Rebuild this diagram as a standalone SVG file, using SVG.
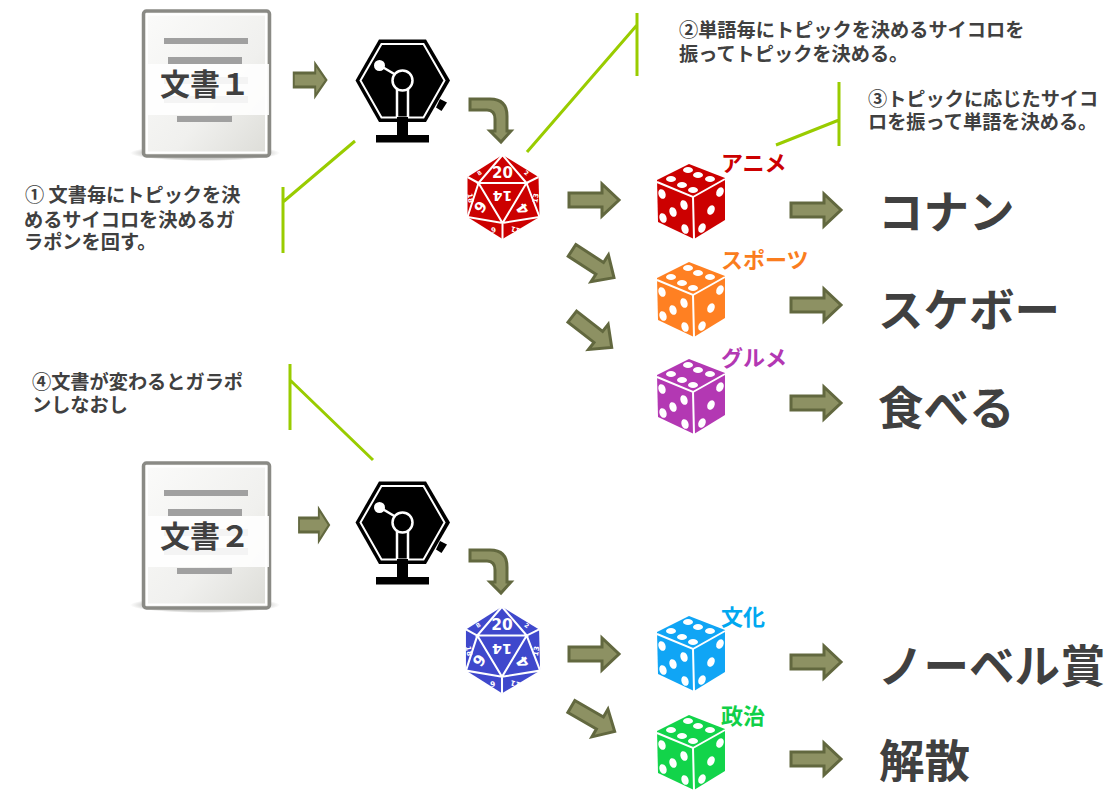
<svg xmlns="http://www.w3.org/2000/svg" width="1111" height="792" viewBox="0 0 1111 792">
<style>
text{font-family:"Noto Sans CJK JP","Liberation Sans",sans-serif;font-weight:700;fill:#404040}
.note{font-size:19.2px}
.big{font-size:45.500px}
.lab{font-size:22px}
.doc{font-size:30px}
.arrow{fill:#8d9163;stroke:#62683f;stroke-width:3}
.call{fill:none;stroke:#99cc00;stroke-width:3}
.w{fill:none;stroke:#fff;stroke-width:2}
.pip{fill:#fff}
.dn{fill:#fff;font-family:"DejaVu Sans",sans-serif;text-anchor:middle}
</style>
<defs>
<linearGradient id="pg" x1="0" y1="0" x2="1" y2="1"><stop offset="0" stop-color="#fbfbfa"/><stop offset=".6" stop-color="#f0f0ee"/><stop offset="1" stop-color="#dcdcd7"/></linearGradient>
<radialGradient id="sh"><stop offset="0" stop-color="#8a8a85" stop-opacity=".7"/><stop offset=".8" stop-color="#8a8a85" stop-opacity=".4"/><stop offset="1" stop-color="#8a8a85" stop-opacity="0"/></radialGradient>
<g id="page">
<ellipse cx="205" cy="153" rx="75" ry="8" fill="url(#sh)"/>
<rect x="143.500" y="11" width="126" height="145" rx="3" fill="url(#pg)" stroke="#8a8a85" stroke-width="3.500"/>
<rect x="147" y="14.500" width="119" height="138" fill="none" stroke="#fff" stroke-width="2"/>
<rect x="164" y="38" width="84" height="6" fill="#a0a0a0"/>
<rect x="168" y="57" width="74" height="7" fill="#a0a0a0"/>
<rect x="164" y="77" width="84" height="7" fill="#a0a0a0"/>
<rect x="164" y="96" width="84" height="7" fill="#a0a0a0"/>
<rect x="177" y="116" width="55" height="6" fill="#a0a0a0"/>
<rect x="148" y="64" width="121" height="51" fill="#fff" fill-opacity=".88"/>
</g>
<g id="gacha">
<polygon points="379,39.500 426,39.500 450,80.500 426,122 379,122 355.500,80.500"/>
<polygon points="381.500,44 423.500,44 444.500,80.500 423.500,117.500 381.500,117.500 360.500,80.500" fill="none" stroke="#fff" stroke-width="2"/>
<rect x="397" y="117" width="11" height="20"/>
<rect x="376" y="135" width="53" height="7.500"/>
<path d="M379,65 L396,75" stroke="#fff" stroke-width="2.500" fill="none"/>
<circle cx="379.500" cy="65.500" r="5.500" fill="#fff"/>
<circle cx="402.500" cy="80.500" r="10" fill="#000" stroke="#fff" stroke-width="2.500"/>
<path d="M397,89 V117 M408,89 V117" stroke="#fff" stroke-width="2.500"/>
<polygon points="440,99 447,102.500 441.500,111 436,107.500"/>
</g>
<g id="d20">
<polygon points="0,-42 36,-20 37,20 0,42 -35,20 -35,-20"/>
<path class="w" d="M0,-42 L-24,-14 H24 Z M0,-42 L24,-14 L36,-20 M-24,-14 L-35,-20 M-24,-14 L0,26 L24,-14 M24,-14 L37,20 L0,26 L-35,20 L-24,-14 M0,26 V42"/>
<text class="dn" x="0" y="-19" font-size="15">20</text>
<text class="dn" transform="translate(0,-1) rotate(180)" dy=".36em" font-size="14">14</text>
<text class="dn" transform="translate(-22,10) rotate(125)" dy=".36em" font-size="15">6</text>
<text class="dn" transform="translate(20,12) rotate(-125)" dy=".36em" font-size="15">4</text>
<text class="dn" transform="translate(-23,-24) rotate(-35)" dy=".36em" font-size="6">8</text>
<text class="dn" transform="translate(24,-24) rotate(35)" dy=".36em" font-size="6">2</text>
<text class="dn" transform="translate(-32,1) rotate(80)" dy=".36em" font-size="7">18</text>
<text class="dn" transform="translate(33,1) rotate(-80)" dy=".36em" font-size="7">13</text>
<text class="dn" transform="translate(-9,33) rotate(170)" dy=".36em" font-size="7">6</text>
<text class="dn" transform="translate(13,33) rotate(195)" dy=".36em" font-size="7">11</text>
</g>
<g id="die">
<polygon points="689,164 725,178 725,220 694,239 658,222 657,180"/>
<path class="w" d="M657,182 L693,197 L725,179 M693,197 L694,239"/>
<g class="pip">
<ellipse cx="688" cy="170" rx="5" ry="3"/><ellipse cx="671" cy="179" rx="5" ry="3"/><ellipse cx="698" cy="175" rx="5" ry="3"/><ellipse cx="710" cy="179" rx="5" ry="3"/><ellipse cx="682" cy="185" rx="5" ry="3"/><ellipse cx="693" cy="190" rx="5" ry="3"/>
<ellipse cx="662" cy="194" rx="3.500" ry="5" transform="rotate(-20 662 194)"/><ellipse cx="684" cy="205" rx="3.500" ry="5" transform="rotate(-20 684 205)"/><ellipse cx="673" cy="212" rx="3.500" ry="5" transform="rotate(-20 673 212)"/><ellipse cx="663" cy="218" rx="3.500" ry="5" transform="rotate(-20 663 218)"/><ellipse cx="685" cy="229" rx="3.500" ry="5" transform="rotate(-20 685 229)"/>
<ellipse cx="720" cy="192" rx="3.500" ry="5" transform="rotate(25 720 192)"/><ellipse cx="711" cy="210" rx="3.500" ry="5" transform="rotate(25 711 210)"/><ellipse cx="702" cy="228" rx="3.500" ry="5" transform="rotate(25 702 228)"/>
</g>
</g>
<polygon id="ar" class="arrow" points="-25,-7 8,-7 8,-16 25,0 8,16 8,7 -25,7"/>
<path id="curve" class="arrow" d="M470,99 H490 Q507,99 507,116 V131 H511 L501,142 L490,131 H495 V119 Q495,110 487,110 H470 Z"/>
</defs>

<g id="doc1"><use href="#page"/><text class="doc" x="160" y="95">文書１</text></g>
<g id="doc2"><use href="#page" y="452"/><text class="doc" x="160" y="547">文書２</text></g>
<g id="gacha1"><use href="#gacha"/></g>
<g id="gacha2"><use href="#gacha" y="442"/></g>
<g id="d20red" fill="#cc0000"><use href="#d20" transform="translate(502.500,197)"/></g>
<g id="d20blue" fill="#3f48cc"><use href="#d20" transform="translate(502,650) scale(1.03)"/></g>
<g id="dieAnime" fill="#cc0000"><use href="#die"/><text class="lab" x="721" y="171" style="fill:#cc0000">アニメ</text></g>
<g id="dieSports" fill="#ff8022"><use href="#die" y="98"/><text class="lab" x="721" y="268" style="fill:#fa7d1e">スポーツ</text></g>
<g id="dieGourmet" fill="#b338b3"><use href="#die" y="195"/><text class="lab" x="721" y="366" style="fill:#b338b3">グルメ</text></g>
<g id="dieCulture" fill="#10a5f5"><use href="#die" y="452"/><text class="lab" x="721" y="625" style="fill:#00a8f0">文化</text></g>
<g id="diePolitics" fill="#12d44a"><use href="#die" y="551"/><text class="lab" x="721" y="724" style="fill:#10d048">政治</text></g>
<g id="words">
<text class="big" x="878" y="229">コナン</text>
<text class="big" x="878" y="327">スケボー</text>
<text class="big" x="878" y="425">食べる</text>
<text class="big" x="878" y="683">ノーベル賞</text>
<text class="big" x="879" y="778">解散</text>
</g>
<g id="notes">
<text class="note"><tspan x="25" y="202">① 文書毎にトピックを決</tspan><tspan x="24" y="227">めるサイコロを決めるガ</tspan><tspan x="24" y="249">ラポンを回す。</tspan></text>
<text class="note"><tspan x="679" y="37">②単語毎にトピックを決めるサイコロを</tspan><tspan x="679" y="61">振ってトピックを決める。</tspan></text>
<text class="note"><tspan x="868" y="106">③トピックに応じたサイコ</tspan><tspan x="868" y="129">ロを振って単語を決める。</tspan></text>
<text class="note"><tspan x="32" y="389">④文書が変わるとガラポ</tspan><tspan x="32" y="412">ンしなおし</tspan></text>
</g>
<g id="connectors">
<use href="#ar" transform="translate(310,80) scale(.65,1)"/>
<use href="#ar" transform="translate(314,525) scale(.6,1)"/>
<use href="#curve"/>
<use href="#curve" y="451"/>
<use href="#ar" x="594" y="200"/>
<use href="#ar" transform="translate(593,264) rotate(33)"/>
<use href="#ar" transform="translate(592,332) rotate(38)"/>
<use href="#ar" x="594" y="654"/>
<use href="#ar" transform="translate(593,719) rotate(30)"/>
<use href="#ar" x="816" y="210"/>
<use href="#ar" x="816" y="305"/>
<use href="#ar" x="816" y="403"/>
<use href="#ar" x="816" y="662"/>
<use href="#ar" x="816" y="759"/>
<path class="call" d="M527,152 L637,25 M637,13 V76"/>
<path class="call" d="M776,145 L839,120 M839,82 V146"/>
<path class="call" d="M355,141 L283,202 M283,187 V253"/>
<path class="call" d="M373,460 L290,380 M290,364 V430"/>
</g>
</svg>
